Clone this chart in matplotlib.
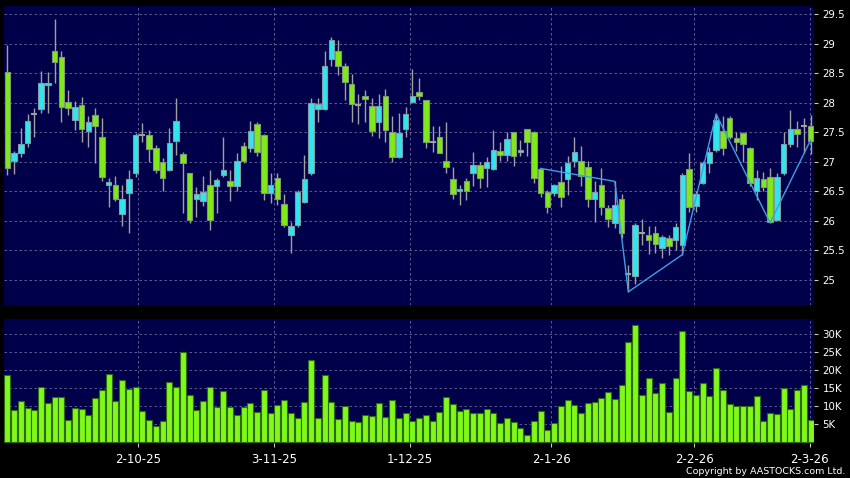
import matplotlib.pyplot as plt
import numpy as np

# Daily OHLC
opens = [28.52, 27.01, 27.15, 27.32, 27.81, 27.90, 28.31, 28.87, 28.77, 28.01,
         27.71, 27.96, 27.53, 27.79, 27.42, 26.61, 26.61, 26.11, 26.48, 26.81,
         27.46, 27.46, 27.24, 26.99, 26.86, 27.36, 27.13, 26.81, 26.37, 26.33,
         26.61, 26.60, 26.78, 26.67, 26.60, 27.27, 27.23, 27.64, 27.45, 26.47,
         26.72, 26.29, 25.77, 25.94, 26.32, 26.81, 27.90, 27.90, 28.74, 28.87,
         28.62, 28.32, 27.97, 28.11, 27.95, 27.67, 28.11, 27.51, 27.08, 27.55,
         28.01, 28.18, 28.04, 27.33, 27.42, 27.02, 26.71, 26.51, 26.68, 26.81,
         26.94, 26.90, 26.88, 27.19, 27.12, 27.51, 27.16, 27.55, 27.51, 26.88,
         26.49, 26.47, 26.66, 26.71, 27.02, 27.02, 26.91, 26.38, 26.61, 26.22,
         25.97, 26.37, 25.11, 25.07, 25.79, 25.77, 25.79, 25.55, 25.71, 25.67,
         25.60, 26.88, 26.25, 26.64, 26.98, 27.20, 27.53, 27.74, 27.41, 27.49,
         27.24, 26.51, 26.71, 26.75, 26.02, 26.81, 27.31, 27.55, 27.61, 27.61]
highs = [28.98, 27.19, 27.57, 27.81, 27.91, 28.54, 28.53, 29.42, 28.88, 28.22,
         28.03, 28.10, 27.78, 27.91, 27.74, 26.72, 26.76, 26.61, 26.86, 27.49,
         27.66, 27.54, 27.29, 27.06, 27.57, 28.08, 27.17, 26.81, 26.58, 26.76,
         26.86, 26.72, 27.43, 26.86, 27.15, 27.34, 27.70, 27.67, 27.47, 26.81,
         26.82, 26.46, 25.99, 26.53, 27.12, 28.08, 28.08, 28.87, 29.12, 29.07,
         28.67, 28.49, 28.15, 28.22, 28.08, 28.15, 28.23, 27.78, 27.83, 27.93,
         28.58, 28.42, 28.05, 27.60, 27.60, 27.68, 26.91, 26.61, 26.72, 27.17,
         27.00, 27.08, 27.54, 27.34, 27.51, 27.51, 27.37, 27.56, 27.52, 26.89,
         26.53, 26.63, 26.93, 27.10, 27.43, 27.27, 27.02, 26.67, 26.89, 26.27,
         26.67, 26.45, 25.25, 25.96, 26.04, 25.92, 25.92, 25.76, 25.76, 25.97,
         26.81, 27.15, 26.50, 27.02, 27.25, 27.81, 27.77, 27.77, 27.51, 27.51,
         27.25, 26.86, 26.83, 26.89, 26.81, 27.51, 27.88, 27.70, 27.74, 27.80]
lows = [26.78, 26.80, 27.09, 27.26, 27.42, 27.83, 27.83, 28.33, 27.67, 27.80,
        27.54, 27.33, 27.25, 26.98, 26.67, 26.23, 26.33, 25.92, 25.80, 26.75,
        27.34, 26.99, 26.81, 26.50, 26.84, 27.12, 26.14, 25.97, 26.07, 26.25,
        25.84, 26.14, 26.75, 26.33, 26.50, 26.98, 27.17, 27.10, 26.35, 26.31,
        26.27, 25.89, 25.46, 25.90, 26.30, 26.78, 27.67, 27.88, 28.62, 28.47,
        28.04, 27.68, 27.64, 27.68, 27.44, 27.41, 27.34, 26.99, 27.06, 27.42,
        27.99, 28.05, 27.23, 27.16, 27.15, 26.82, 26.37, 26.27, 26.35, 26.59,
        26.55, 26.57, 26.86, 27.02, 27.02, 26.93, 27.10, 27.10, 26.65, 26.41,
        26.14, 26.42, 26.24, 26.44, 26.92, 26.59, 26.23, 25.99, 26.10, 25.89,
        25.88, 25.71, 24.80, 24.94, 25.59, 25.44, 25.46, 25.38, 25.42, 25.51,
        25.42, 26.16, 26.16, 26.63, 26.81, 27.17, 27.12, 27.38, 27.19, 27.00,
        26.60, 26.36, 26.50, 25.97, 26.00, 26.78, 27.26, 27.26, 27.15, 27.14]
closes = [26.89, 27.15, 27.30, 27.69, 27.81, 28.33, 28.34, 28.69, 27.93, 27.91,
          27.93, 27.55, 27.67, 27.60, 26.75, 26.66, 26.38, 26.38, 26.71, 27.45,
          27.46, 27.22, 26.86, 26.72, 27.32, 27.69, 26.98, 26.02, 26.46, 26.49,
          26.01, 26.69, 26.86, 26.59, 27.02, 27.01, 27.52, 27.16, 26.47, 26.61,
          26.37, 25.93, 25.92, 26.49, 26.71, 27.99, 27.98, 28.62, 29.06, 28.62,
          28.36, 27.98, 27.97, 28.07, 27.53, 27.95, 27.54, 27.08, 27.49, 27.81,
          28.12, 28.11, 27.33, 27.33, 27.15, 26.91, 26.46, 26.54, 26.51, 26.94,
          26.72, 27.00, 27.21, 27.11, 27.38, 27.10, 27.21, 27.33, 26.72, 26.48,
          26.23, 26.61, 26.41, 26.98, 27.16, 26.76, 26.38, 26.49, 26.24, 26.03,
          26.27, 25.79, 25.11, 25.93, 25.79, 25.68, 25.61, 25.72, 25.58, 25.89,
          26.77, 26.23, 26.45, 26.98, 27.16, 27.71, 27.24, 27.43, 27.33, 27.31,
          26.64, 26.72, 26.58, 25.99, 26.75, 27.30, 27.55, 27.47, 27.61, 27.36]

# Volume in thousands
volumes_k = [18.5, 8.8, 11.2, 9.2, 8.9, 15.2, 10.8, 12.4, 12.3, 5.9,
             9.4, 9.1, 7.4, 12.0, 14.2, 18.7, 11.2, 17.0, 14.6, 15.2,
             8.5, 5.9, 4.3, 5.6, 16.5, 15.3, 24.8, 13.0, 8.8, 11.2,
             15.3, 9.7, 14.1, 9.7, 7.4, 9.6, 10.8, 8.2, 14.4, 7.9,
             10.2, 11.5, 7.9, 6.6, 10.9, 22.6, 6.6, 18.6, 11.0, 6.4,
             9.8, 5.7, 5.4, 7.4, 7.0, 10.6, 6.9, 11.6, 6.6, 8.0,
             5.8, 6.5, 7.4, 5.7, 8.3, 12.5, 10.4, 8.5, 9.0, 7.9,
             7.8, 9.1, 7.9, 5.2, 6.5, 5.4, 3.8, 1.9, 5.6, 8.6,
             3.3, 5.2, 9.8, 11.6, 10.2, 8.0, 10.8, 11.0, 12.2, 13.8,
             11.7, 15.7, 27.6, 32.5, 12.9, 17.8, 13.4, 16.2, 8.3, 17.7,
             30.7, 14.1, 12.9, 16.2, 12.7, 20.4, 14.3, 10.5, 9.8, 10.0,
             9.8, 12.7, 5.8, 8.0, 7.6, 15.0, 9.1, 14.4, 15.8, 6.1]

# Trend line overlay (swing points)
zig_idx = [79, 90, 92, 100, 105, 113, 119]
zig_px = [26.89, 26.67, 24.80, 25.43, 27.81, 25.97, 27.37]

date_labels = ["2-10-25", "3-11-25", "1-12-25", "2-1-26", "2-2-26", "2-3-26"]
date_pos = [19.4, 39.5, 59.6, 80.6, 101.8, 118.9]

price_ticks = [25, 25.5, 26, 26.5, 27, 27.5, 28, 28.5, 29, 29.5]
vol_ticks = [5, 10, 15, 20, 25, 30]

BG = "#00004a"
GREEN = "#7fea18"
CYAN = "#30e6ee"
GRID = "#6a6a9c"

o = np.array(opens)
h = np.array(highs)
l = np.array(lows)
c = np.array(closes)
x = np.arange(len(o))

fig = plt.figure(figsize=(8.5, 4.78), dpi=100, facecolor="black")
ax = fig.add_axes([4 / 850, 1 - 305 / 478, 810.3 / 850, 299 / 478])
axv = fig.add_axes([4 / 850, 1 - 443.3 / 478, 810.3 / 850, 124.3 / 478], sharex=ax)

for a in (ax, axv):
    a.set_facecolor(BG)
    for s in a.spines.values():
        s.set_visible(False)
    a.grid(True, color=GRID, linestyle=(0, (3, 3)), linewidth=0.6)
    a.set_axisbelow(True)
    a.yaxis.tick_right()
    a.tick_params(axis="y", colors="#c8c8c8", labelcolor="white", direction="out",
                  length=3, pad=3, labelsize=7.4)

# Candles: cyan = up, green = down, grey dash = unchanged
up = c > o
down = c < o
doji = c == o
ax.vlines(x, l, h, color="#a0a0a0", linewidth=1, zorder=2)
ax.bar(x[up], (c - o)[up], bottom=o[up], width=0.8, color=CYAN,
       edgecolor="#7f9fa8", linewidth=0.8, zorder=3)
ax.bar(x[down], (o - c)[down], bottom=c[down], width=0.8, color=GREEN,
       edgecolor="#7f9a70", linewidth=0.8, zorder=3)
ax.hlines(c[doji], x[doji] - 0.45, x[doji] + 0.45, color="#a0a0a0", linewidth=1.5, zorder=3)
ax.plot(zig_idx, zig_px, color="#3ca0e6", linewidth=1, zorder=4)

ax.set_xlim(-0.5, 119.55)
ax.set_ylim(24.577, 29.64)
ax.set_yticks(price_ticks)
ax.set_yticklabels([f"{t:g}" for t in price_ticks])
ax.tick_params(axis="x", bottom=False, labelbottom=False)

# Volume
axv.bar(x, volumes_k, width=0.9, color="#7ff81a", edgecolor="#2f6a12", linewidth=0.8, zorder=3)
axv.set_ylim(-0.5, 34.1)
axv.set_yticks(vol_ticks)
axv.set_yticklabels([f"{t}K" for t in vol_ticks])
axv.set_xticks(date_pos)
axv.set_xticklabels(date_labels)
axv.tick_params(axis="x", colors="#c8c8c8", labelcolor="white", direction="out",
                length=3, pad=4, labelsize=8.5)

fig.text(845 / 850, 1 - 471.7 / 478, "Copyright by AASTOCKS.com Ltd.",
         ha="right", va="center", color="white", fontsize=6.8)

fig.savefig("out.png", dpi=100, facecolor="black")
